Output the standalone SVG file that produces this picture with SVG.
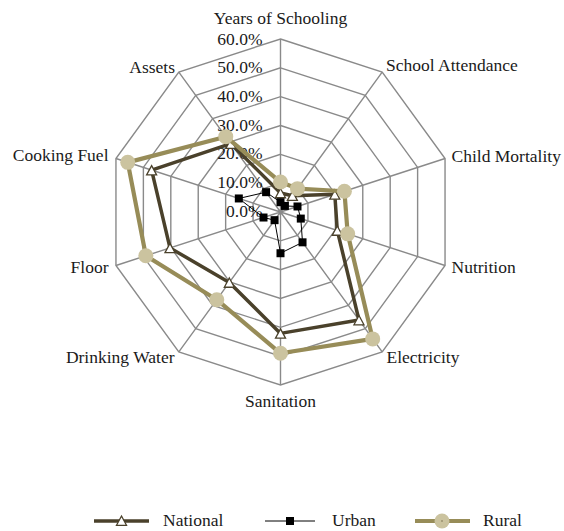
<svg xmlns="http://www.w3.org/2000/svg" xmlns:xlink="http://www.w3.org/1999/xlink" width="564" height="531" viewBox="0 0 564 531">
<style>
.grid{fill:none;stroke:#8a8a8a;stroke-width:1.4}
.t{font-family:"Liberation Serif","Times New Roman",serif;font-size:17.5px;fill:#1a1a1a}
.pct{text-anchor:end}
.nat{fill:none;stroke:#4a412b;stroke-width:3.5;stroke-linejoin:round}
.urb{fill:none;stroke:#000;stroke-width:1;stroke-linejoin:round}
.rur{fill:none;stroke:#978c58;stroke-width:4.2;stroke-linejoin:round}
.tri{fill:#fff;stroke:#4a412b;stroke-width:1.3}
.sq{fill:#000}
.dot{fill:#cbc39f}
</style>
<defs>
<path id="tri" class="tri" d="M0,-4.5 L5,4.8 L-5,4.8 Z"/>
<rect id="sq" class="sq" x="-4" y="-4" width="8" height="8"/>
<circle id="dot" class="dot" r="7.5"/>
</defs>
<rect width="564" height="531" fill="#fff"/>
<g id="grid">
<polygon class="grid" points="280.5,39 382.19,72.04 445.04,158.54 445.04,265.46 382.19,351.96 280.5,385 178.81,351.96 115.96,265.46 115.96,158.54 178.81,72.04"/>
<polygon class="grid" points="280.5,67.83 365.24,95.37 417.62,167.45 417.62,256.55 365.24,328.63 280.5,356.17 195.76,328.63 143.38,256.55 143.38,167.45 195.76,95.37"/>
<polygon class="grid" points="280.5,96.67 348.29,118.7 390.19,176.36 390.19,247.64 348.29,305.3 280.5,327.33 212.71,305.3 170.81,247.64 170.81,176.36 212.71,118.7"/>
<polygon class="grid" points="280.5,125.5 331.34,142.02 362.77,185.27 362.77,238.73 331.34,281.98 280.5,298.5 229.66,281.98 198.23,238.73 198.23,185.27 229.66,142.02"/>
<polygon class="grid" points="280.5,154.33 314.4,165.35 335.35,194.18 335.35,229.82 314.4,258.65 280.5,269.67 246.6,258.65 225.65,229.82 225.65,194.18 246.6,165.35"/>
<polygon class="grid" points="280.5,183.17 297.45,188.67 307.92,203.09 307.92,220.91 297.45,235.33 280.5,240.83 263.55,235.33 253.08,220.91 253.08,203.09 263.55,188.67"/>
<path class="grid" d="M280.5,212 L280.5,39 M280.5,212 L382.19,72.04 M280.5,212 L445.04,158.54 M280.5,212 L445.04,265.46 M280.5,212 L382.19,351.96 M280.5,212 L280.5,385 M280.5,212 L178.81,351.96 M280.5,212 L115.96,265.46 M280.5,212 L115.96,158.54 M280.5,212 L178.81,72.04"/>
</g>
<g id="axis-values" class="t pct">
<text x="262.5" y="44.5">60.0%</text>
<text x="262.5" y="72.8">50.0%</text>
<text x="262.5" y="101.7">40.0%</text>
<text x="262.5" y="130.5">30.0%</text>
<text x="262.5" y="159.3">20.0%</text>
<text x="262.5" y="188.2">10.0%</text>
<text x="262.5" y="217">0.0%</text>
</g>
<g id="category-labels" class="t">
<text x="280.5" y="24" text-anchor="middle">Years of Schooling</text>
<text x="386" y="71">School Attendance</text>
<text x="451.5" y="162">Child Mortality</text>
<text x="451.5" y="273">Nutrition</text>
<text x="386.5" y="363">Electricity</text>
<text x="280.5" y="407" text-anchor="middle">Sanitation</text>
<text x="174.5" y="363" text-anchor="end">Drinking Water</text>
<text x="108.5" y="273" text-anchor="end">Floor</text>
<text x="108.5" y="161" text-anchor="end">Cooking Fuel</text>
<text x="175" y="73" text-anchor="end">Assets</text>
</g>
<g id="connectors">
<g id="series-national">
<polygon class="nat" points="280.5,192.97 292.36,195.67 334.8,194.36 337.26,230.44 358.97,320 280.5,333.39 229.32,282.45 169.98,247.91 151.61,170.12 230.84,143.65"/>
<use xlink:href="#tri" href="#tri" x="280.5" y="192.97"/>
<use xlink:href="#tri" href="#tri" x="292.36" y="195.67"/>
<use xlink:href="#tri" href="#tri" x="334.8" y="194.36"/>
<use xlink:href="#tri" href="#tri" x="337.26" y="230.44"/>
<use xlink:href="#tri" href="#tri" x="358.97" y="320"/>
<use xlink:href="#tri" href="#tri" x="280.5" y="333.39"/>
<use xlink:href="#tri" href="#tri" x="229.32" y="282.45"/>
<use xlink:href="#tri" href="#tri" x="169.98" y="247.91"/>
<use xlink:href="#tri" href="#tri" x="151.61" y="170.12"/>
<use xlink:href="#tri" href="#tri" x="230.84" y="143.65"/>
</g>
<g id="series-urban">
<polygon class="urb" points="280.5,202.2 284.91,205.93 297.5,206.48 300.79,218.59 302.53,242.32 280.5,253.23 274.57,220.16 263.5,217.52 238.82,198.46 266.09,192.17"/>
<use xlink:href="#sq" href="#sq" x="280.5" y="202.2"/>
<use xlink:href="#sq" href="#sq" x="284.91" y="205.93"/>
<use xlink:href="#sq" href="#sq" x="297.5" y="206.48"/>
<use xlink:href="#sq" href="#sq" x="300.79" y="218.59"/>
<use xlink:href="#sq" href="#sq" x="302.53" y="242.32"/>
<use xlink:href="#sq" href="#sq" x="280.5" y="253.23"/>
<use xlink:href="#sq" href="#sq" x="274.57" y="220.16"/>
<use xlink:href="#sq" href="#sq" x="263.5" y="217.52"/>
<use xlink:href="#sq" href="#sq" x="238.82" y="198.46"/>
<use xlink:href="#sq" href="#sq" x="266.09" y="192.17"/>
</g>
<g id="series-rural">
<polygon class="rur" points="280.5,182.01 297.45,188.67 344.4,191.24 347.69,233.83 372.7,338.89 280.5,353.28 216.78,299.7 145.85,255.75 127.75,162.37 225.76,136.66"/>
<use xlink:href="#dot" href="#dot" x="280.5" y="182.01"/>
<use xlink:href="#dot" href="#dot" x="297.45" y="188.67"/>
<use xlink:href="#dot" href="#dot" x="344.4" y="191.24"/>
<use xlink:href="#dot" href="#dot" x="347.69" y="233.83"/>
<use xlink:href="#dot" href="#dot" x="372.7" y="338.89"/>
<use xlink:href="#dot" href="#dot" x="280.5" y="353.28"/>
<use xlink:href="#dot" href="#dot" x="216.78" y="299.7"/>
<use xlink:href="#dot" href="#dot" x="145.85" y="255.75"/>
<use xlink:href="#dot" href="#dot" x="127.75" y="162.37"/>
<use xlink:href="#dot" href="#dot" x="225.76" y="136.66"/>
</g>
</g>
<g id="legend">
<g id="legend-national">
<line class="nat" x1="94" y1="521" x2="149" y2="521"/>
<use xlink:href="#tri" href="#tri" x="121.5" y="520.5"/>
<text class="t" x="163" y="526">National</text>
</g>
<g id="legend-urban">
<line class="urb" x1="265" y1="521" x2="315" y2="521"/>
<use xlink:href="#sq" href="#sq" x="290" y="521"/>
<text class="t" x="332" y="526">Urban</text>
</g>
<g id="legend-rural">
<line class="rur" x1="415" y1="521" x2="470" y2="521"/>
<use xlink:href="#dot" href="#dot" x="442" y="521"/>
<circle cx="442" cy="521" r="0.8" fill="#7a7050"/>
<text class="t" x="483" y="526">Rural</text>
</g>
</g>
</svg>
